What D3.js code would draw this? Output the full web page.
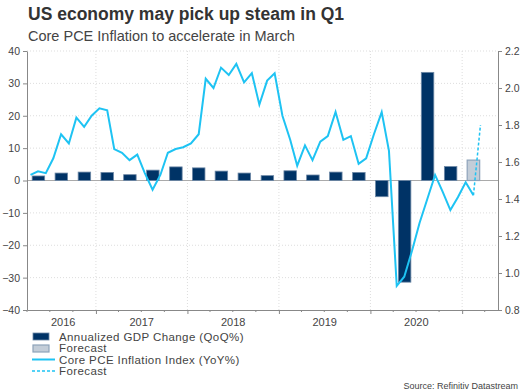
<!DOCTYPE html>
<html>
<head>
<meta charset="utf-8">
<script src="https://cdn.jsdelivr.net/npm/d3@7"></script>
<style>
  body { margin: 0; background: #fff; }
  svg { font-family: "Liberation Sans", Arial, sans-serif; }
</style>
</head>
<body>
<div id="chart"></div>
<script>
// quarterly GDP, Q2 2016 .. Q4 2020, then Q1 2021 forecast
const gdpQuarters = ["2016Q2","2016Q3","2016Q4","2017Q1","2017Q2","2017Q3","2017Q4",
  "2018Q1","2018Q2","2018Q3","2018Q4","2019Q1","2019Q2","2019Q3","2019Q4",
  "2020Q1","2020Q2","2020Q3","2020Q4"];
const gdpValues = [1.4, 2.3, 2.6, 2.5, 1.8, 3.2, 4.2, 3.9, 2.9, 2.3, 1.5, 3.0, 1.7, 2.6, 2.5,
  -5.0, -31.4, 33.4, 4.3];
const gdpForecastQuarter = ["2021Q1"];
const gdpForecastValue = [6.3];

// monthly core PCE YoY, Apr 2016 .. Feb 2021
const pceStart = "2016-04";
const pceValues = [1.53, 1.55, 1.54, 1.62, 1.75, 1.70, 1.84, 1.79, 1.85,
  1.89, 1.88, 1.67, 1.65, 1.61, 1.64, 1.54, 1.45, 1.53, 1.65, 1.67, 1.68,
  1.70, 1.75, 2.05, 2.00, 2.11, 2.07, 2.13, 2.03, 2.08, 1.91, 2.04, 2.08,
  1.85, 1.72, 1.58, 1.69, 1.61, 1.71, 1.74, 1.87, 1.72, 1.74, 1.59, 1.62,
  1.75, 1.87, 1.66, 0.93, 0.98, 1.12, 1.27, 1.40, 1.53, 1.44, 1.34, 1.41,
  1.49, 1.42];
const pceForecastMonths = ["2021-02", "2021-03"];
const pceForecastValues = [1.42, 1.80];

const leftTicks = [-40, -30, -20, -10, 0, 10, 20, 30, 40];
const rightTicks = [0.8, 1.0, 1.2, 1.4, 1.6, 1.8, 2.0, 2.2];
const yearLabels = [2016, 2017, 2018, 2019, 2020];

const W = 524, H = 392;
const navy = "#003366", cyan = "#1ec3f3";

const svg = d3.select("#chart").append("svg")
  .attr("width", W).attr("height", H);

const x = d3.scaleTime()
  .domain([new Date(2016, 3, 1), new Date(2021, 4, 24)])
  .range([27, 498]);
const yL = d3.scaleLinear().domain([-40, 40]).range([310, 51]);
const yR = d3.scaleLinear().domain([0.8, 2.2]).range([310, 51]);

const quarterMid = q => {
  const yr = +q.slice(0, 4), qi = +q.slice(5) - 1;
  return new Date((+new Date(yr, qi * 3, 1) + +new Date(yr, qi * 3 + 3, 1)) / 2);
};
const monthMid = m => {
  const [yr, mo] = m.split("-").map(Number);
  return new Date(yr, mo - 1, 15);
};
const pceData = pceValues.map((v, i) => {
  const [yr, mo] = pceStart.split("-").map(Number);
  return { date: new Date(yr, mo - 1 + i, 15), v };
});

// titles
svg.append("text").attr("x", 28).attr("y", 20)
  .attr("font-size", 17.5).attr("font-weight", "bold").attr("fill", "#333")
  .text("US economy may pick up steam in Q1");
svg.append("text").attr("x", 28).attr("y", 41)
  .attr("font-size", 14.5).attr("fill", "#444")
  .text("Core PCE Inflation to accelerate in March");

// grid
svg.append("g").selectAll("line")
  .data(leftTicks.filter(d => d !== 0 && d !== -40))
  .join("line")
  .attr("x1", 27).attr("x2", 498)
  .attr("y1", d => yL(d)).attr("y2", d => yL(d))
  .attr("stroke", "#ddd").attr("stroke-dasharray", "1,2");
const yearStarts = d3.range(2017, 2022).map(yr => new Date(yr, 0, 1));
svg.append("g").selectAll("line")
  .data(yearStarts)
  .join("line")
  .attr("x1", d => x(d)).attr("x2", d => x(d))
  .attr("y1", 51).attr("y2", 310)
  .attr("stroke", "#ddd").attr("stroke-dasharray", "1,2");

// zero line
svg.append("line")
  .attr("x1", 27).attr("x2", 498)
  .attr("y1", yL(0)).attr("y2", yL(0))
  .attr("stroke", "#aaa");

// bars
const bw = 12.5;
svg.append("g").selectAll("rect")
  .data(gdpValues.map((v, i) => ({ q: gdpQuarters[i], v })))
  .join("rect")
  .attr("x", d => x(quarterMid(d.q)) - bw / 2)
  .attr("width", bw)
  .attr("y", d => yL(Math.max(0, d.v)))
  .attr("height", d => Math.abs(yL(d.v) - yL(0)))
  .attr("fill", navy).attr("stroke", "#6d88a6").attr("stroke-width", 0.8);
svg.append("g").selectAll("rect")
  .data(gdpForecastValue.map((v, i) => ({ q: gdpForecastQuarter[i], v })))
  .join("rect")
  .attr("x", d => x(quarterMid(d.q)) - bw / 2)
  .attr("width", bw)
  .attr("y", d => yL(Math.max(0, d.v)))
  .attr("height", d => Math.abs(yL(d.v) - yL(0)))
  .attr("fill", "#c3cdd8").attr("stroke", "#8ea3ba").attr("stroke-width", 1.2);

// lines
const line = d3.line().x(d => x(d.date)).y(d => yR(d.v));
svg.append("path").datum(pceData)
  .attr("d", line).attr("fill", "none")
  .attr("stroke", cyan).attr("stroke-width", 2);
svg.append("path")
  .datum(pceForecastValues.map((v, i) => ({ date: monthMid(pceForecastMonths[i]), v })))
  .attr("d", line).attr("fill", "none")
  .attr("stroke", cyan).attr("stroke-width", 1.5).attr("stroke-dasharray", "3,2");

// axes
const axisStyle = g => {
  g.select(".domain").attr("stroke", "#888");
  g.selectAll(".tick line").attr("stroke", "#888");
  g.selectAll("text").attr("fill", "#444").attr("font-size", 10.5)
    .attr("font-family", "Liberation Sans, Arial, sans-serif");
};
svg.append("g").attr("transform", "translate(27,0)")
  .call(d3.axisLeft(yL).tickValues(leftTicks).tickSize(4).tickPadding(3).tickSizeOuter(0))
  .call(axisStyle);
svg.append("g").attr("transform", "translate(498,0)")
  .call(d3.axisRight(yR).tickValues(rightTicks).tickSize(4).tickPadding(3)
    .tickFormat(d3.format(".1f")).tickSizeOuter(0))
  .call(axisStyle);

const quarterTicks = d3.timeMonth.every(3).range(new Date(2016, 3, 1), new Date(2021, 4, 1))
  .filter(d => d.getMonth() !== 0);
const gx = svg.append("g").attr("transform", "translate(0,310)");
gx.call(d3.axisBottom(x).tickValues(yearStarts).tickSize(4).tickFormat("").tickSizeOuter(0))
  .call(axisStyle);
gx.append("g").selectAll("line").data(quarterTicks).join("line")
  .attr("x1", d => x(d)).attr("x2", d => x(d))
  .attr("y1", 0).attr("y2", 2).attr("stroke", "#888");
gx.append("g").selectAll("text").data(yearLabels).join("text")
  .attr("x", yr => {
    const a = Math.max(+new Date(yr, 0, 1), +pceData[0].date);
    return (x(new Date(a)) + x(new Date(yr + 1, 0, 1))) / 2;
  })
  .attr("y", 16).attr("text-anchor", "middle")
  .attr("font-size", 11).attr("fill", "#444")
  .text(d => d);

// legend
const lg = svg.append("g").attr("font-size", 11.5).attr("fill", "#444")
  .attr("letter-spacing", 0.4);
lg.append("rect").attr("x", 33).attr("y", 333).attr("width", 16).attr("height", 7)
  .attr("fill", navy).attr("stroke", "#6d88a6").attr("stroke-width", 0.8);
lg.append("text").attr("x", 59).attr("y", 340.5).text("Annualized GDP Change (QoQ%)");
lg.append("rect").attr("x", 33).attr("y", 345).attr("width", 16).attr("height", 7)
  .attr("fill", "#c3cdd8").attr("stroke", "#8ea3ba").attr("stroke-width", 1.2);
lg.append("text").attr("x", 59).attr("y", 352).text("Forecast");
lg.append("line").attr("x1", 32).attr("x2", 55).attr("y1", 359.5).attr("y2", 359.5)
  .attr("stroke", cyan).attr("stroke-width", 2);
lg.append("text").attr("x", 59).attr("y", 363.5).text("Core PCE Inflation Index (YoY%)");
lg.append("line").attr("x1", 32).attr("x2", 55).attr("y1", 371).attr("y2", 371)
  .attr("stroke", cyan).attr("stroke-width", 1.5).attr("stroke-dasharray", "3,2");
lg.append("text").attr("x", 59).attr("y", 375).text("Forecast");

svg.append("text").attr("x", 518).attr("y", 389).attr("text-anchor", "end")
  .attr("font-size", 9).attr("fill", "#444")
  .text("Source: Refinitiv Datastream");
</script>
</body>
</html>
